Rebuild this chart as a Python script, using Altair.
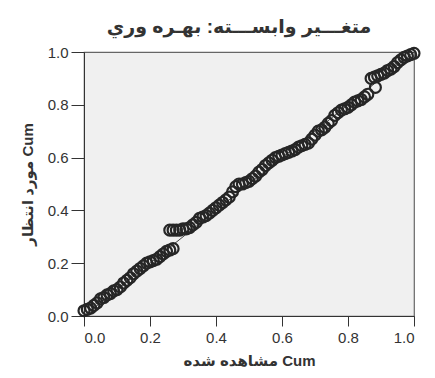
import altair as alt
import pandas as pd

title_text = "متغـــير وابســـته: بهـره وري"
x_title = "مشاهده شده Cum"
y_title = "مورد انتظار Cum"
tick_values = [0.0, 0.2, 0.4, 0.6, 0.8, 1.0]

observed = [0.00, 0.01, 0.02, 0.03, 0.04, 0.05, 0.06, 0.07, 0.08, 0.09,
            0.10, 0.11, 0.12, 0.13, 0.14, 0.15, 0.16, 0.17, 0.18, 0.19,
            0.20, 0.21, 0.22, 0.23, 0.24, 0.25, 0.26, 0.27,
            0.26, 0.27, 0.28, 0.29, 0.30, 0.31, 0.32, 0.33, 0.34, 0.35,
            0.36, 0.37, 0.38, 0.39, 0.40, 0.41, 0.42, 0.43, 0.44, 0.45,
            0.46, 0.47, 0.48, 0.49, 0.50, 0.51, 0.52, 0.53, 0.54, 0.55,
            0.56, 0.57, 0.58, 0.59, 0.60, 0.61, 0.62, 0.63, 0.64, 0.65,
            0.66, 0.67, 0.68, 0.69, 0.70, 0.71, 0.72, 0.73, 0.74, 0.75,
            0.76, 0.77, 0.78, 0.79, 0.80, 0.81, 0.82, 0.83, 0.84, 0.85,
            0.86, 0.883, 0.87, 0.88, 0.89, 0.90, 0.91, 0.92, 0.93, 0.94,
            0.95, 0.96, 0.97, 0.98, 0.99, 1.00]
expected = [0.020, 0.025, 0.030, 0.040, 0.050, 0.065, 0.070, 0.080, 0.085, 0.095,
            0.100, 0.110, 0.125, 0.135, 0.145, 0.160, 0.170, 0.180, 0.190, 0.200,
            0.205, 0.210, 0.215, 0.225, 0.235, 0.245, 0.250, 0.255,
            0.325, 0.325, 0.325, 0.325, 0.330, 0.330, 0.335, 0.345, 0.355, 0.370,
            0.375, 0.380, 0.390, 0.400, 0.410, 0.420, 0.430, 0.440, 0.450, 0.470,
            0.490, 0.500, 0.500, 0.505, 0.510, 0.520, 0.530, 0.545, 0.555, 0.570,
            0.580, 0.590, 0.600, 0.605, 0.610, 0.615, 0.620, 0.625, 0.630, 0.640,
            0.645, 0.650, 0.655, 0.670, 0.685, 0.700, 0.705, 0.715, 0.730, 0.740,
            0.760, 0.770, 0.780, 0.785, 0.790, 0.800, 0.810, 0.815, 0.820, 0.830,
            0.840, 0.866, 0.900, 0.905, 0.910, 0.915, 0.920, 0.930, 0.935, 0.945,
            0.960, 0.970, 0.980, 0.985, 0.990, 0.995]

ref_line = [0.0, 1.0]

pts = pd.DataFrame({"obs": observed, "exp": expected})
diag = pd.DataFrame({"obs": ref_line, "exp": ref_line})

font = "Liberation Sans, Arial, DejaVu Sans"

xsc = alt.Scale(domain=[0, 1], nice=False, zero=False)
ysc = alt.Scale(domain=[0, 1], nice=False, zero=False)

xax = alt.Axis(values=tick_values, format=".1f", grid=False, tickSize=10,
               labelFontSize=15, labelPadding=4, labelColor="#333",
               domainColor="#333", tickColor="#333", titleFontSize=15,
               titleFontWeight="bold", titleColor="#333", titlePadding=8,
               labelFont=font, titleFont=font)
yax = alt.Axis(values=tick_values, format=".1f", grid=False, tickSize=13,
               labelFontSize=15, labelPadding=3, labelColor="#333",
               domainColor="#333", tickColor="#333", titleFontSize=15,
               titleFontWeight="bold", titleColor="#333", titlePadding=12,
               labelFont=font, titleFont=font)

line = alt.Chart(diag).mark_line(color="#444", strokeWidth=1).encode(
    x=alt.X("obs:Q", scale=xsc, axis=xax, title=x_title),
    y=alt.Y("exp:Q", scale=ysc, axis=yax, title=y_title),
)

points = alt.Chart(pts).mark_point(shape="circle", filled=False, size=120,
                                   strokeWidth=2.2, color="#262626", opacity=1).encode(
    x=alt.X("obs:Q", scale=xsc),
    y=alt.Y("exp:Q", scale=ysc),
)

chart = alt.layer(line, points).properties(
    width=330, height=264,
    title=alt.TitleParams(title_text, fontSize=19, fontWeight="bold", font=font,
                          color="#333", anchor="middle", offset=6, dx=-10),
    autosize=alt.AutoSizeParams(type="none"),
    padding={"left": 76, "top": 44, "right": 11, "bottom": 54},
).configure_view(fill="#f0f0f0", stroke="#666", strokeWidth=1.2)

chart.save("out.html", embed_options={"renderer": "svg", "actions": False})
